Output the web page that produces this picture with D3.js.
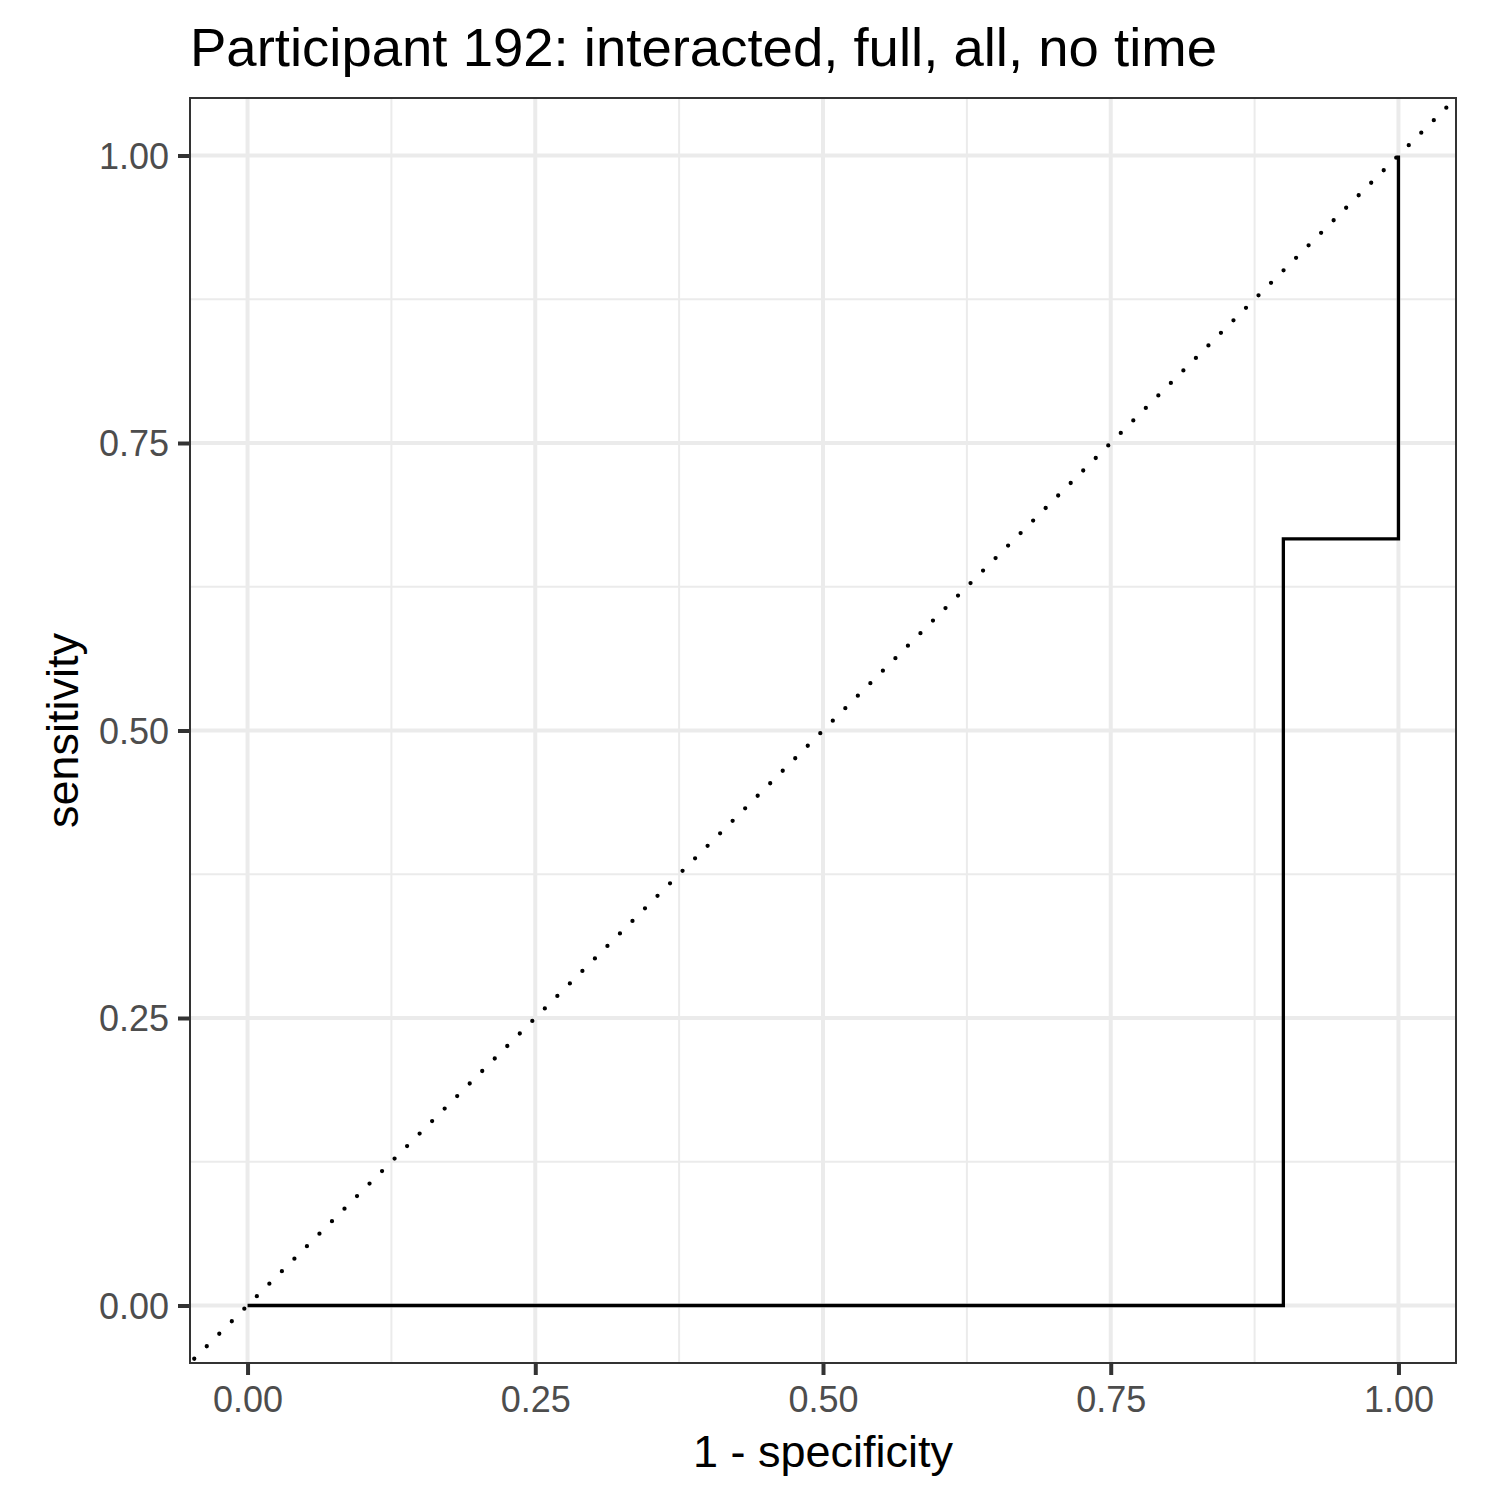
<!DOCTYPE html>
<html>
<head>
<meta charset="utf-8">
<script src="https://cdn.jsdelivr.net/npm/d3@7"></script>
<style>
  body { margin: 0; background: #fff; }
  text { font-family: "Liberation Sans", Arial, sans-serif; }
</style>
</head>
<body>
<svg id="chart" width="1500" height="1500"></svg>
<script>
// roc curve points (1 - specificity, sensitivity)
var fpr = [0, 0.9, 0.9, 1, 1];
var tpr = [0, 0, 0.6667, 0.6667, 1];
var ticks = [0, 0.25, 0.5, 0.75, 1];
var minorTicks = [0.125, 0.375, 0.625, 0.875];
var tickLabels = ["0.00", "0.25", "0.50", "0.75", "1.00"];

var svg = d3.select("#chart");
svg.append("rect").attr("width", 1500).attr("height", 1500).attr("fill", "#fff");

var panelLeft = 190, panelRight = 1456, panelTop = 98, panelBottom = 1363;

var x = d3.scaleLinear().domain([-0.05, 1.05]).range([panelLeft, panelRight]);
var y = d3.scaleLinear().domain([-0.05, 1.05]).range([panelBottom, panelTop]);

var grid = svg.append("g");
// minor grid
minorTicks.forEach(function(t) {
    grid.append("line").attr("x1", x(t)).attr("x2", x(t)).attr("y1", panelTop).attr("y2", panelBottom)
        .attr("stroke", "#EBEBEB").attr("stroke-width", 2);
    grid.append("line").attr("y1", y(t)).attr("y2", y(t)).attr("x1", panelLeft).attr("x2", panelRight)
        .attr("stroke", "#EBEBEB").attr("stroke-width", 2);
});
// major grid
ticks.forEach(function(t) {
    grid.append("line").attr("x1", x(t)).attr("x2", x(t)).attr("y1", panelTop).attr("y2", panelBottom)
        .attr("stroke", "#EBEBEB").attr("stroke-width", 4);
    grid.append("line").attr("y1", y(t)).attr("y2", y(t)).attr("x1", panelLeft).attr("x2", panelRight)
        .attr("stroke", "#EBEBEB").attr("stroke-width", 4);
});

// clip for the panel
svg.append("clipPath").attr("id", "clip").append("rect")
    .attr("x", panelLeft).attr("y", panelTop).attr("width", panelRight - panelLeft).attr("height", panelBottom - panelTop);

// diagonal reference line (dotted)
svg.append("line")
    .attr("clip-path", "url(#clip)")
    .attr("x1", x(-0.05)).attr("y1", y(-0.05))
    .attr("x2", x(1.05)).attr("y2", y(1.05))
    .attr("stroke", "#000").attr("stroke-width", 4.3)
    .attr("stroke-dasharray", "0 17.7").attr("stroke-dashoffset", 11.7)
    .attr("stroke-linecap", "round");

// step curve
var line = d3.line().x(function(d) { return x(d[0]); }).y(function(d) { return y(d[1]); });
svg.append("path")
    .datum(fpr.map(function(v, i) { return [v, tpr[i]]; }))
    .attr("d", line)
    .attr("fill", "none").attr("stroke", "#000").attr("stroke-width", 3.3)
    .attr("stroke-linejoin", "miter");

// panel border
svg.append("rect").attr("x", panelLeft).attr("y", panelTop).attr("width", panelRight - panelLeft).attr("height", panelBottom - panelTop)
    .attr("fill", "none").attr("stroke", "#333333").attr("stroke-width", 2);

// axes
var xAxis = d3.axisBottom(x).tickValues(ticks).tickFormat(function(d, i) { return tickLabels[i]; })
    .tickSize(12).tickPadding(9);
var yAxis = d3.axisLeft(y).tickValues(ticks).tickFormat(function(d, i) { return tickLabels[i]; })
    .tickSize(12).tickPadding(9);

var gx = svg.append("g").attr("transform", "translate(0," + panelBottom + ")").call(xAxis);
var gy = svg.append("g").attr("transform", "translate(" + panelLeft + ",0)").call(yAxis);
[gx, gy].forEach(function(g) {
    g.select(".domain").remove();
    g.selectAll(".tick line").attr("stroke", "#333333").attr("stroke-width", 4);
    g.selectAll(".tick text").attr("fill", "#4D4D4D").style("font-size", "36px")
        .style("font-family", "Liberation Sans, Arial, sans-serif");
});
gx.selectAll(".tick text").attr("dy", "0.78em");
gy.selectAll(".tick text").attr("dy", "0.36em");

// titles
svg.append("text").attr("x", 190).attr("y", 66).attr("font-size", "54.5px").attr("fill", "#000")
    .text("Participant 192: interacted, full, all, no time");
svg.append("text").attr("x", (panelLeft + panelRight) / 2).attr("y", 1467).attr("text-anchor", "middle")
    .attr("font-size", "45px").attr("fill", "#000").text("1 - specificity");
svg.append("text").attr("transform", "translate(78," + ((panelTop + panelBottom) / 2) + ") rotate(-90)")
    .attr("text-anchor", "middle").attr("font-size", "45px").attr("fill", "#000").text("sensitivity");
</script>
</body>
</html>
